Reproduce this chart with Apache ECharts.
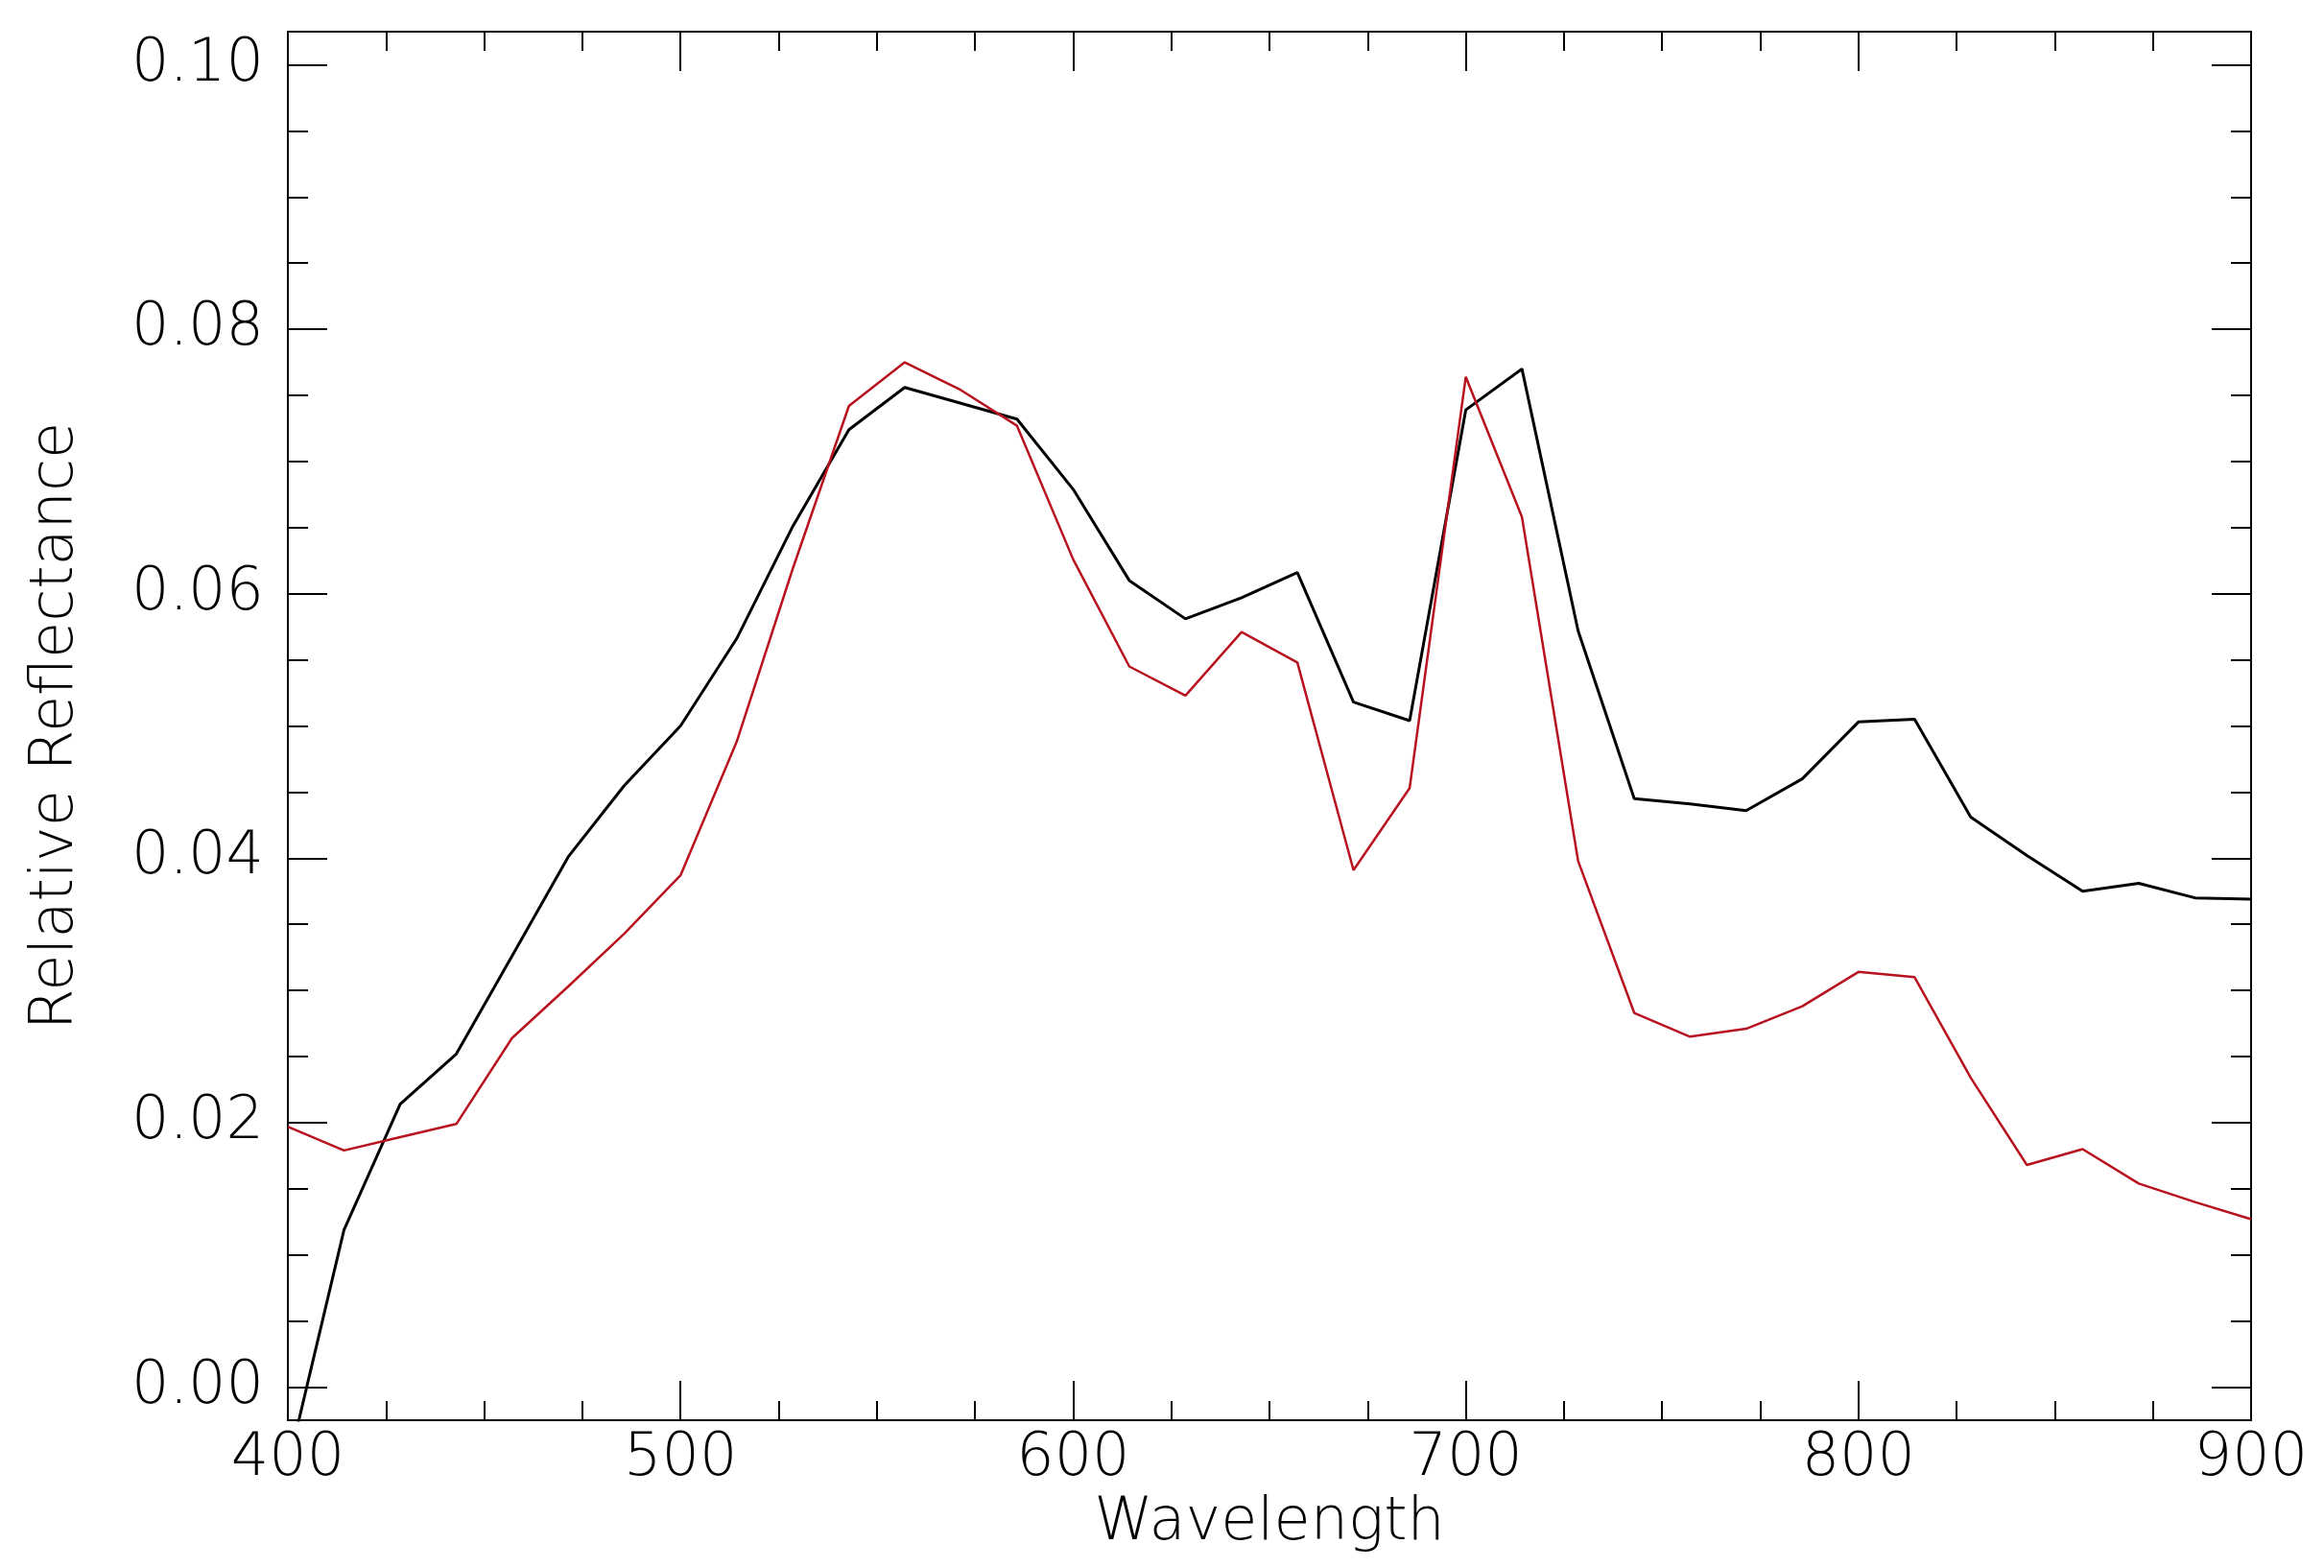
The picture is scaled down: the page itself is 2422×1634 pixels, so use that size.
<!DOCTYPE html>
<html>
<head>
<meta charset="utf-8">
<script src="https://cdn.jsdelivr.net/npm/echarts@6/dist/echarts.min.js"></script>
<style>
html,body{margin:0;padding:0;background:#fff;}
#chart{width:2422px;height:1634px;}
</style>
</head>
<body>
<div id="chart"></div>
<script>
// Wavelength samples (nm)
const wavelengths = [400, 414.3, 428.6, 442.9, 457.1, 471.4, 485.7, 500, 514.3, 528.6, 542.9, 557.1,
  571.4, 585.7, 600, 614.3, 628.6, 642.9, 657.1, 671.4, 685.7, 700, 714.3, 728.6,
  742.9, 757.1, 771.4, 785.7, 800, 814.3, 828.6, 842.9, 857.1, 871.4, 885.7, 900];

// Black curve
const blackValues = [-0.0060, 0.0119, 0.0214, 0.0252, 0.0326, 0.0401, 0.0455, 0.0500, 0.0566, 0.0651, 0.0724, 0.0756,
  0.0744, 0.0732, 0.0679, 0.0610, 0.0581, 0.0597, 0.0616, 0.0518, 0.0504, 0.0739, 0.0770, 0.0572,
  0.0445, 0.0441, 0.0436, 0.0460, 0.0503, 0.0505, 0.0431, 0.0402, 0.0375, 0.0381, 0.0370, 0.0369];

// Red curve
const redValues = [0.0197, 0.0179, 0.0189, 0.0199, 0.0264, 0.0303, 0.0343, 0.0387, 0.0488, 0.0619, 0.0742, 0.0775,
  0.0754, 0.0727, 0.0626, 0.0545, 0.0523, 0.0571, 0.0548, 0.0391, 0.0453, 0.0764, 0.0658, 0.0398,
  0.0283, 0.0265, 0.0271, 0.0288, 0.0314, 0.0310, 0.0234, 0.0168, 0.0180, 0.0154, 0.0140, 0.0127];

// Tick values
const yMajorTicks = [0, 0.02, 0.04, 0.06, 0.08, 0.10];
const yMinorTicks = [0.005, 0.01, 0.015, 0.025, 0.03, 0.035, 0.045, 0.05, 0.055,
  0.065, 0.07, 0.075, 0.085, 0.09, 0.095];
const xTickLabels = [400, 500, 600, 700, 800, 900];

const FONT = 'DejaVu Sans';
const lineCol = '#000';

function pairs(xs, ys) { return xs.map((x, i) => [x, ys[i]]); }

const chart = echarts.init(document.getElementById('chart'), null, {renderer: 'canvas'});

const yBase = {
  type: 'value', min: -0.0025, max: 0.1025,
  splitLine: {show: false},
  axisLine: {show: true, onZero: false, lineStyle: {color: lineCol, width: 2}}
};
const xBase = {
  type: 'value', min: 400, max: 900, interval: 100,
  splitLine: {show: false},
  axisLine: {show: true, onZero: false, lineStyle: {color: lineCol, width: 2}},
  axisTick: {show: true, inside: true, length: 41, lineStyle: {color: lineCol, width: 2}},
  minorTick: {show: true, splitNumber: 4, length: 20, lineStyle: {color: lineCol, width: 2}},
  minorSplitLine: {show: false}
};

chart.setOption({
  animation: false,
  backgroundColor: '#fff',
  grid: {left: 300, right: 76, top: 33, bottom: 154, containLabel: false, outerBoundsMode: 'none'},
  xAxis: [
    Object.assign({}, xBase, {
      position: 'bottom',
      name: 'Wavelength', nameLocation: 'middle', nameGap: 46,
      nameTextStyle: {fontFamily: FONT, fontWeight: 200, fontSize: 62, color: '#000'},
      axisLabel: {show: true, margin: 10, fontFamily: FONT, fontWeight: 200, fontSize: 62, color: '#000',
        customValues: xTickLabels, formatter: v => String(v)}
    }),
    Object.assign({}, xBase, {position: 'top', axisLabel: {show: false}})
  ],
  yAxis: [
    Object.assign({}, yBase, {
      position: 'left',
      name: 'Relative Reflectance', nameLocation: 'middle', nameGap: 210, nameRotate: 90,
      nameTextStyle: {fontFamily: FONT, fontWeight: 200, fontSize: 62, color: '#000'},
      axisTick: {show: true, inside: true, length: 41, customValues: yMajorTicks, lineStyle: {color: lineCol, width: 2}},
      axisLabel: {show: true, margin: 25, fontFamily: FONT, fontWeight: 200, fontSize: 62, color: '#000',
        customValues: yMajorTicks, formatter: v => v.toFixed(2)}
    }),
    Object.assign({}, yBase, {
      position: 'left',
      axisTick: {show: true, inside: true, length: 21, customValues: yMinorTicks, lineStyle: {color: lineCol, width: 2}},
      axisLabel: {show: false}
    }),
    Object.assign({}, yBase, {
      position: 'right',
      axisTick: {show: true, inside: true, length: 41, customValues: yMajorTicks, lineStyle: {color: lineCol, width: 2}},
      axisLabel: {show: false}
    }),
    Object.assign({}, yBase, {
      position: 'right',
      axisTick: {show: true, inside: true, length: 21, customValues: yMinorTicks, lineStyle: {color: lineCol, width: 2}},
      axisLabel: {show: false}
    })
  ],
  series: [
    {
      type: 'line', name: 'black', xAxisIndex: 0, yAxisIndex: 0,
      data: pairs(wavelengths, blackValues),
      showSymbol: false, symbol: 'none', clip: true,
      lineStyle: {color: '#000', width: 3}
    },
    {
      type: 'line', name: 'red', xAxisIndex: 0, yAxisIndex: 0,
      data: pairs(wavelengths, redValues),
      showSymbol: false, symbol: 'none', clip: true,
      lineStyle: {color: '#b8121e', width: 2.5}
    }
  ]
});
</script>
</body>
</html>
